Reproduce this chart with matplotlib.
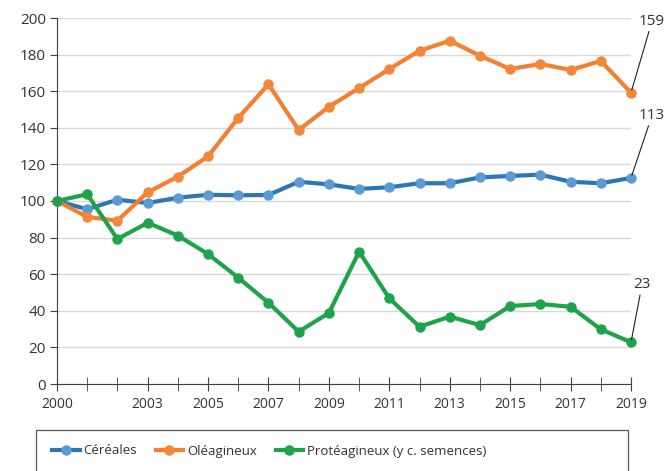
import matplotlib.pyplot as plt
from matplotlib.patches import Rectangle

plt.rcParams['font.family'] = ['Open Sans', 'DejaVu Sans']

years = list(range(2000, 2020))
cereales = [100, 95.5, 100.7, 98.9, 101.8, 103.4, 103.1, 103.3, 110.5, 109.1,
            106.6, 107.5, 109.7, 109.7, 112.9, 113.7, 114.4, 110.5, 109.7, 112.6]
oleagineux = [100, 91.3, 89.2, 104.7, 113.3, 124.4, 145.4, 163.8, 138.8, 151.5,
              161.7, 172.1, 182.1, 187.6, 179.4, 172.1, 174.9, 171.6, 176.5, 159.2]
proteagineux = [100, 103.7, 79.2, 88.1, 81.1, 71.0, 58.1, 44.4, 28.6, 38.8,
                72.3, 46.8, 31.3, 36.8, 32.2, 42.6, 43.7, 42.2, 29.9, 22.8]
tick_years = [2000, 2003, 2005, 2007, 2009, 2011, 2013, 2015, 2017, 2019]
end_labels = ['113', '159', '23']

fig = plt.figure(figsize=(6.65, 4.71), dpi=100)
ax = fig.add_axes([57/665, 1-384/471, 574/665, 366/471])

series = [
    (cereales, '#2E75B6', '#5B9BD5', 'Céréales'),
    (oleagineux, '#F47F30', '#F4883A', 'Oléagineux'),
    (proteagineux, '#1FA34A', '#1FA34A', 'Protéagineux (y c. semences)'),
]
handles = []
for vals, lc, mc, name in series:
    h, = ax.plot(years, vals, color=lc, lw=3, marker='o', ms=6.5,
                 markerfacecolor=mc, markeredgecolor=mc, label=name,
                 clip_on=False, zorder=3, solid_joinstyle='round')
    handles.append(h)

# étiquettes de fin
offsets = [(21, 55), (21, 64), (11, 50)]
for (vals, *_), txt, (dx, dy) in zip(series, end_labels, offsets):
    ax.annotate(txt, xy=(years[-1], vals[-1]), xytext=(dx, dy),
                textcoords='offset pixels', ha='center', va='bottom',
                fontsize=11, color='#333333', annotation_clip=False,
                arrowprops=dict(arrowstyle='-', color='#222222', lw=0.8,
                                shrinkA=0, shrinkB=2))

ax.set_xlim(2000, 2019)
ax.set_ylim(0, 200)
ax.set_yticks(range(0, 201, 20))
ax.set_xticks(years, minor=True)
ax.set_xticks(tick_years)
ax.grid(axis='y', color='#d9d9d9', lw=1)
ax.set_axisbelow(True)
for s in ['top', 'right']:
    ax.spines[s].set_visible(False)
ax.spines['left'].set_color('#404040')
ax.spines['bottom'].set_color('#404040')
ax.tick_params(axis='y', length=5, color='#404040', labelsize=11,
               labelcolor='#333333', pad=3)
ax.tick_params(axis='x', which='both', direction='inout', length=10,
               color='#404040', labelsize=10, labelcolor='#333333', pad=4)
ax.tick_params(axis='x', which='minor', direction='inout', length=10)

fig.patches.append(Rectangle((36/665, -0.01), 592/665, (471-430)/471 + 0.01,
                             transform=fig.transFigure, fill=False,
                             edgecolor='#595959', lw=0.9))
fig.legend(handles=handles, loc='center left',
           bbox_to_anchor=(40/665, 1-451/471), ncol=3, frameon=False,
           fontsize=9.5, handlelength=2.1, handletextpad=0.3,
           columnspacing=1.4, labelcolor='#333333')

fig.savefig('out.png', dpi=100)
